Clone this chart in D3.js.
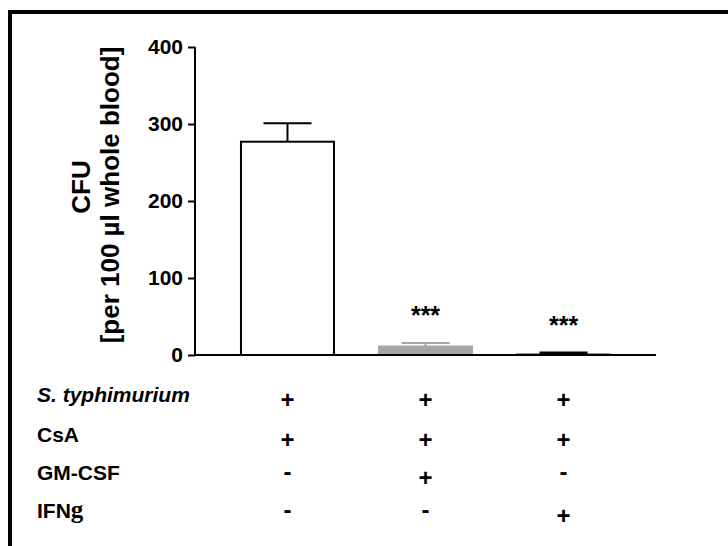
<!DOCTYPE html>
<html>
<head>
<meta charset="utf-8">
<script src="https://cdn.jsdelivr.net/npm/d3@7"></script>
<style>
  body { margin: 0; background: #fff; }
  svg { display: block; }
  text { font-family: Arial, "Liberation Sans", sans-serif; font-weight: bold; }
</style>
</head>
<body>
<svg id="chart" width="728" height="546"></svg>
<script>
// bar chart data
var groups = ["g1", "g2", "g3"];
var means = [277, 11, 0.5];
var sems = [24, 4.5, 2];
var barFills = ["#ffffff", "#a6a6a6", "#ffffff"];
var barStrokes = ["#000000", "#a6a6a6", "#000000"];
var stars = ["", "***", "***"];
var yTicks = [0, 100, 200, 300, 400];

// treatment table under the bars
var rowLabels = ["S. typhimurium", "CsA", "GM-CSF", "IFNg"];
var signs = [
    ["+", "+", "+"],
    ["+", "+", "+"],
    ["-", "+", "-"],
    ["-", "-", "+"]
];

var svg = d3.select('#chart');

// outer frame (only top/left visible)
svg.append('rect')
    .attr('x', 10).attr('y', 12)
    .attr('width', 800).attr('height', 600)
    .style('fill', 'none')
    .style('stroke', 'black')
    .style('stroke-width', 4);

var x = d3.scaleBand()
    .domain(groups)
    .range([195, 656])
    .paddingInner(0.326)
    .paddingOuter(0.333);

var y = d3.scaleLinear()
    .domain([0, 400])
    .range([355, 47]);

var g = svg.append('g');

// bars
g.selectAll('rect.bar')
    .data(groups)
    .enter()
  .append('rect')
    .attr('class', 'bar')
    .attr('x', function(d) { return x(d); })
    .attr('y', function(d, i) { return y(means[i]); })
    .attr('width', x.bandwidth())
    .attr('height', function(d, i) { return y(0) - y(means[i]); })
    .style('fill', function(d, i) { return barFills[i]; })
    .style('stroke', function(d, i) { return barStrokes[i]; })
    .style('stroke-width', 2);

// error bars (upper only)
var capW = 48;
groups.forEach(function(d, i) {
    var cx = x(d) + x.bandwidth() / 2;
    var top = y(means[i] + sems[i]);
    var col = i === 1 ? '#a6a6a6' : 'black';
    g.append('line')
        .attr('x1', cx).attr('x2', cx)
        .attr('y1', y(means[i])).attr('y2', top)
        .style('stroke', col).style('stroke-width', 2);
    g.append('line')
        .attr('x1', cx - capW / 2).attr('x2', cx + capW / 2)
        .attr('y1', top).attr('y2', top)
        .style('stroke', col).style('stroke-width', i === 2 ? 3 : 2);
    if (stars[i]) {
        g.append('text')
            .attr('x', cx)
            .attr('y', top - 19)
            .attr('text-anchor', 'middle')
            .attr('font-size', 25)
            .text(stars[i]);
    }
});

// axes
var yAxis = g.append('g')
    .attr('transform', 'translate(195,0)')
    .call(d3.axisLeft(y).tickValues(yTicks).tickSize(7).tickPadding(5));
yAxis.selectAll('path, line').style('stroke', 'black').style('stroke-width', 2);
yAxis.select('path').attr('d', 'M0,' + y(400) + 'V' + y(0));
yAxis.selectAll('text')
    .attr('font-size', 21)
    .style('font-family', 'Arial, "Liberation Sans", sans-serif')
    .style('font-weight', 'bold')
    .attr('fill', 'black');

g.append('line')
    .attr('x1', 195).attr('x2', 656)
    .attr('y1', y(0)).attr('y2', y(0))
    .style('stroke', 'black').style('stroke-width', 2);

// y axis title
var title = g.append('text')
    .attr('transform', 'translate(0,195) rotate(-90)')
    .attr('text-anchor', 'middle')
    .attr('font-size', 26);
title.append('tspan').attr('x', 8).attr('y', 90).text('CFU');
title.append('tspan').attr('x', 0).attr('y', 119).text('[per 100 µl whole blood]');

// table
var rowY = [402, 442, 480, 518];
rowLabels.forEach(function(lab, r) {
    var t = g.append('text')
        .attr('x', 37)
        .attr('y', rowY[r])
        .attr('font-size', 21);
    if (r === 0) {
        t.style('font-style', 'italic').text(lab);
    } else if (lab === 'IFNg') {
        t.append('tspan').text('IFN');
        t.append('tspan')
            .style('font-family', '"Liberation Serif", "DejaVu Serif", serif')
            .attr('font-size', 25)
            .text('g');
    } else {
        t.text(lab);
    }
    groups.forEach(function(d, i) {
        var s = signs[r][i];
        g.append('text')
            .attr('x', x(d) + x.bandwidth() / 2)
            .attr('y', rowY[r] + (s === '+' ? 6 : 0))
            .attr('text-anchor', 'middle')
            .attr('font-size', 24)
            .text(s);
    });
});
</script>
</body>
</html>
